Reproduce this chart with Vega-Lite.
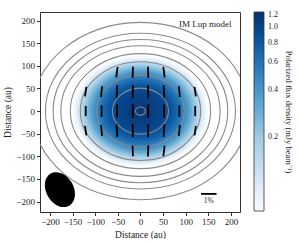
{
  "$schema": "https://vega.github.io/schema/vega-lite/v6.json",
  "width": 200,
  "height": 200,
  "padding": {"left": 2, "top": 12, "right": 0, "bottom": 0},
  "background": "white",
  "config": {
    "font": "Liberation Serif",
    "view": {"stroke": "#333", "strokeWidth": 1},
    "axis": {"grid": false, "domain": false, "tickColor": "#333", "tickSize": 3.5, "labelFont": "Liberation Serif", "labelFontSize": 9, "labelColor": "#222", "titleFont": "Liberation Serif", "titleFontSize": 9.5, "titleFontWeight": "normal", "titleColor": "#222", "labelPadding": 2, "titlePadding": 3}
  },
  "datasets": {
    "blob": [
      {"x": 0, "y": 0, "r": 150, "f": 0.07},
      {"x": 0, "y": 0, "r": 144, "f": 0.09},
      {"x": 0, "y": 0, "r": 138, "f": 0.12},
      {"x": 0, "y": 0, "r": 132, "f": 0.16},
      {"x": 0, "y": 0, "r": 126, "f": 0.2},
      {"x": 0, "y": 0, "r": 120, "f": 0.25},
      {"x": 0, "y": 0, "r": 114, "f": 0.31},
      {"x": 0, "y": 0, "r": 108, "f": 0.38},
      {"x": 0, "y": 0, "r": 102, "f": 0.45},
      {"x": 0, "y": 0, "r": 96, "f": 0.52},
      {"x": 0, "y": 0, "r": 90, "f": 0.6},
      {"x": 0, "y": 0, "r": 84, "f": 0.68},
      {"x": 0, "y": 0, "r": 78, "f": 0.75},
      {"x": 0, "y": 0, "r": 72, "f": 0.82},
      {"x": 0, "y": 0, "r": 66, "f": 0.88},
      {"x": 0, "y": 0, "r": 60, "f": 0.93},
      {"x": 0, "y": 0, "r": 54, "f": 0.97},
      {"x": 0, "y": 0, "r": 48, "f": 1.0},
      {"x": 0, "y": 0, "r": 42, "f": 1.03},
      {"x": 0, "y": 0, "r": 36, "f": 1.05},
      {"x": 0, "y": 0, "r": 30, "f": 1.07},
      {"x": 0, "y": 0, "r": 24, "f": 1.09},
      {"x": 0, "y": 0, "r": 18, "f": 1.1},
      {"x": 0, "y": 0, "r": 12, "f": 1.11},
      {"x": 0, "y": 0, "r": 6, "f": 1.12}
    ],
    "rings": [
      {"x": 0, "y": 0, "r": 239},
      {"x": 0, "y": 0, "r": 210},
      {"x": 0, "y": 0, "r": 193},
      {"x": 0, "y": 0, "r": 176},
      {"x": 0, "y": 0, "r": 155},
      {"x": 0, "y": 0, "r": 133},
      {"x": 0, "y": 0, "r": 97},
      {"x": 0, "y": 0, "r": 62},
      {"x": 0, "y": 0, "r": 11}
    ],
    "vectors": [
      {"x": -52, "y": 86, "p": 0.68, "a": 98},
      {"x": -17, "y": 86, "p": 0.72, "a": 92},
      {"x": 17, "y": 86, "p": 0.72, "a": 88},
      {"x": 52, "y": 86, "p": 0.68, "a": 82},
      {"x": -121, "y": 43, "p": 0.62, "a": 98},
      {"x": -86, "y": 43, "p": 0.72, "a": 95},
      {"x": -52, "y": 43, "p": 0.82, "a": 93},
      {"x": -17, "y": 43, "p": 0.86, "a": 91},
      {"x": 17, "y": 43, "p": 0.86, "a": 89},
      {"x": 52, "y": 43, "p": 0.82, "a": 87},
      {"x": 86, "y": 43, "p": 0.72, "a": 85},
      {"x": 121, "y": 43, "p": 0.62, "a": 82},
      {"x": -121, "y": 0, "p": 0.65, "a": 90},
      {"x": -86, "y": 0, "p": 0.75, "a": 90},
      {"x": -52, "y": 0, "p": 0.85, "a": 90},
      {"x": -17, "y": 0, "p": 0.88, "a": 90},
      {"x": 17, "y": 0, "p": 0.88, "a": 90},
      {"x": 52, "y": 0, "p": 0.85, "a": 90},
      {"x": 86, "y": 0, "p": 0.75, "a": 90},
      {"x": 121, "y": 0, "p": 0.65, "a": 90},
      {"x": -121, "y": -43, "p": 0.62, "a": 82},
      {"x": -86, "y": -43, "p": 0.72, "a": 85},
      {"x": -52, "y": -43, "p": 0.82, "a": 87},
      {"x": -17, "y": -43, "p": 0.86, "a": 89},
      {"x": 17, "y": -43, "p": 0.86, "a": 91},
      {"x": 52, "y": -43, "p": 0.82, "a": 93},
      {"x": 86, "y": -43, "p": 0.72, "a": 95},
      {"x": 121, "y": -43, "p": 0.62, "a": 98},
      {"x": -17, "y": -88, "p": 0.68, "a": 88},
      {"x": 17, "y": -88, "p": 0.72, "a": 92},
      {"x": 52, "y": -88, "p": 0.68, "a": 97},
      {"x": 151, "y": -183, "p": 1.0, "a": 0}
    ],
    "beam": [
      {"x": -178, "y": -173.5, "r": 41}
    ],
    "title": [
      {"x": 201, "y": 193, "label": "IM Lup model"}
    ],
    "bar": [
      {"x": 151, "y": -199, "label": "1%"}
    ]
  },
  "encoding": {
    "x": {"field": "x", "type": "quantitative", "scale": {"domain": [-222, 220], "nice": false, "zero": false}, "axis": {"title": "Distance (au)", "values": [-200, -150, -100, -50, 0, 50, 100, 150, 200]}},
    "y": {"field": "y", "type": "quantitative", "scale": {"domain": [-223, 219], "nice": false, "zero": false}, "axis": {"title": "Distance (au)", "values": [-200, -150, -100, -50, 0, 50, 100, 150, 200]}}
  },
  "layer": [
    {
      "data": {"name": "blob"},
      "mark": {"type": "point", "shape": "M 1 0 C 1 0.4529 0.5523 0.82 0 0.82 C -0.5523 0.82 -1 0.4529 -1 0 C -1 -0.4529 -0.5523 -0.82 0 -0.82 C 0.5523 -0.82 1 -0.4529 1 0 Z", "filled": true, "opacity": 1, "strokeWidth": 0},
      "encoding": {
        "size": {"field": "r", "type": "quantitative", "scale": {"type": "pow", "exponent": 2, "domain": [0, 250], "range": [0, 51189]}, "legend": null},
        "color": {"field": "f", "type": "quantitative",
          "scale": {"type": "log", "interpolate": "rgb", "domain": [0.068, 0.0979, 0.1408, 0.2027, 0.2917, 0.4198, 0.6041, 0.8694, 1.25], "range": ["#f7fbff", "#deebf7", "#c6dbef", "#9ecae1", "#6baed6", "#4292c6", "#2171b5", "#08519c", "#08306b"]},
          "legend": {"orient": "right", "offset": 14, "padding": 0, "gradientLength": 199, "gradientThickness": 10, "gradientStrokeColor": "#333", "gradientStrokeWidth": 0.8, "labelFont": "Liberation Serif", "labelFontSize": 8, "labelColor": "#222", "labelOffset": 4, "labelOverlap": false, "title": "Polarized flux density (mJy beam⁻¹)", "titleOrient": "right", "titleAngle": 270, "titleFont": "Liberation Serif", "titleFontSize": 8.5, "titleFontWeight": "normal", "titleColor": "#222", "titleAnchor": "middle", "titlePadding": 6, "values": [0.2, 0.4, 0.6, 0.8, 1.0, 1.2], "format": ".1f"}
        },
        "order": {"field": "r", "sort": "descending"}
      }
    },
    {
      "data": {"name": "rings"},
      "mark": {"type": "point", "shape": "M 1 0 C 1 0.4529 0.5523 0.82 0 0.82 C -0.5523 0.82 -1 0.4529 -1 0 C -1 -0.4529 -0.5523 -0.82 0 -0.82 C 0.5523 -0.82 1 -0.4529 1 0 Z", "filled": false, "color": "#8a8a8a", "strokeWidth": 1.1, "opacity": 1, "clip": true},
      "encoding": {
        "size": {"field": "r", "type": "quantitative", "scale": {"type": "pow", "exponent": 2, "domain": [0, 250], "range": [0, 51189]}, "legend": null}
      }
    },
    {
      "data": {"name": "vectors"},
      "mark": {"type": "point", "shape": "stroke", "filled": false, "color": "#000", "strokeWidth": 1.8, "opacity": 1, "strokeCap": "butt"},
      "encoding": {
        "size": {"field": "p", "type": "quantitative", "scale": {"type": "pow", "exponent": 2, "domain": [0, 1], "range": [0, 240]}, "legend": null},
        "angle": {"field": "a", "type": "quantitative", "scale": {"domain": [0, 360], "range": [0, 360]}, "legend": null}
      }
    },
    {
      "data": {"name": "beam"},
      "mark": {"type": "point", "shape": "M 0 -1 C 0.4087 -1 0.74 -0.5523 0.74 0 C 0.74 0.5523 0.4087 1 0 1 C -0.4087 1 -0.74 0.5523 -0.74 0 C -0.74 -0.5523 -0.4087 -1 0 -1 Z", "filled": true, "color": "#000", "opacity": 1, "strokeWidth": 0, "angle": -30},
      "encoding": {
        "size": {"field": "r", "type": "quantitative", "scale": {"type": "pow", "exponent": 2, "domain": [0, 250], "range": [0, 51189]}, "legend": null}
      }
    },
    {
      "data": {"name": "title"},
      "mark": {"type": "text", "font": "Liberation Serif", "fontSize": 9, "align": "right", "baseline": "middle", "color": "#222"},
      "encoding": {"text": {"field": "label"}}
    },
    {
      "data": {"name": "bar"},
      "mark": {"type": "text", "font": "Liberation Serif", "fontSize": 7.5, "align": "center", "baseline": "middle", "color": "#222"},
      "encoding": {"text": {"field": "label"}}
    }
  ],
  "resolve": {"scale": {"size": "independent", "angle": "independent"}}
}
